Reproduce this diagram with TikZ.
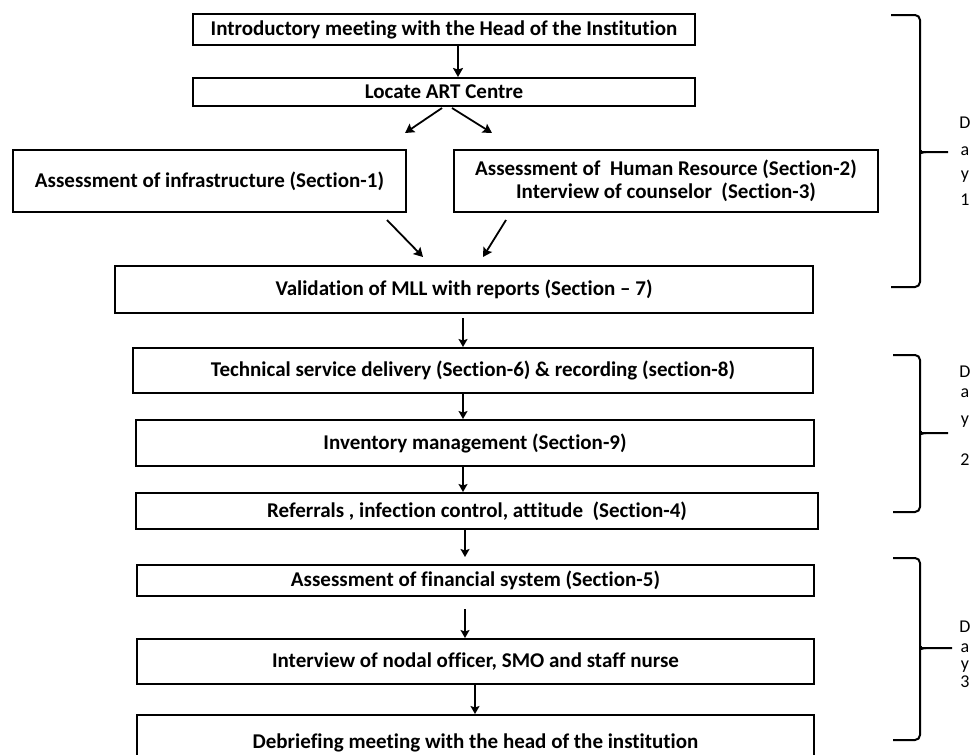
\documentclass[tikz,border=0pt]{standalone}
\usepackage{fontspec}
\setmainfont{Carlito}[Ligatures=NoCommon]
\usetikzlibrary{arrows.meta}
\begin{document}
\begin{tikzpicture}[x=1pt,y=-1pt,
  box/.style={draw,line width=2pt,rectangle,inner sep=0pt,align=center,font=\fontsize{21}{24}\selectfont\bfseries},
  arr/.style={line width=1.8pt,-{Stealth[length=9pt,width=10pt,inset=1.5pt]}},
  arrs/.style={line width=1.5pt,-{Stealth[length=8pt,width=9pt,inset=1.5pt]}},
  brace/.style={line width=2pt,rounded corners=5pt},
  dayl/.style={inner sep=0pt,font=\fontsize{18}{18}\selectfont}]
\clip (0,0) rectangle (972,755);
\useasboundingbox (0,0) rectangle (972,755);
\fill[white] (0,0) rectangle (972,755);
% boxes
\node[box,minimum width=502pt,minimum height=31pt] (b1) at (444,29.5) {Introductory meeting with the Head of the Institution};
\node[box,minimum width=502pt,minimum height=28pt] (b2) at (444,92) {Locate ART Centre};
\node[box,minimum width=393pt,minimum height=62pt] (b3) at (209.5,181) {Assessment of infrastructure (Section-1)};
\node[box,minimum width=424pt,minimum height=62pt] (b4) at (666,181) {Assessment of~~Human Resource (Section-2)\\[-1pt]Interview of counselor~~(Section-3)};
\node[box,minimum width=698pt,minimum height=47pt] (b5) at (464,289.5) {Validation of MLL with reports (Section -- 7)};
\node[box,minimum width=680pt,minimum height=45pt] (b6) at (473,370.5) {Technical service delivery (Section-6) \& recording (section-8)};
\node[box,minimum width=678pt,minimum height=46pt] (b7) at (475,443) {Inventory management (Section-9)};
\node[box,minimum width=682pt,minimum height=36pt] (b8) at (477,511) {Referrals , infection control, attitude~~(Section-4)};
\node[box,minimum width=677pt,minimum height=31pt] (b9) at (475.5,580.5) {Assessment of financial system (Section-5)};
\node[box,minimum width=677pt,minimum height=45pt] (b10) at (475.5,661.5) {Interview of nodal officer, SMO and staff nurse};
\node[box,minimum width=677pt,minimum height=56pt] (b11) at (475.5,743) {Debriefing meeting with the head of the institution};
% free arrow ends
\coordinate (t1) at (405,133);
\coordinate (t2) at (492,133);
\coordinate (s1) at (387,220);
\coordinate (s2) at (506,220);
\coordinate (e1) at (423,257);
\coordinate (e2) at (483,257);
% arrows
\draw[arr] ([xshift=14pt]b1.south) -- ([xshift=14pt]b2.north);
\draw[arr] ([xshift=-2pt,yshift=-1pt]b2.south) -- (t1);
\draw[arr] ([xshift=8pt,yshift=-1pt]b2.south) -- (t2);
\draw[arr] (s1) -- (e1);
\draw[arr] (s2) -- (e2);
\draw[arrs] ([xshift=-1pt,yshift=-4pt]b5.south) -- ([xshift=-1pt]b5.south |- b6.north);
\draw[arrs] ([xshift=-10pt]b6.south) -- ([xshift=-10pt]b6.south |- b7.north);
\draw[arrs] ([xshift=-12pt]b7.south) -- ([xshift=-12pt]b7.south |- b8.north);
\draw[arrs] ([xshift=-12pt]b8.south) -- ([xshift=-12pt,yshift=7pt]b8.south |- b9.north);
\draw[arrs] ([xshift=-10.5pt,yshift=-12pt]b9.south) -- ([xshift=-10.5pt]b9.south |- b10.north);
\draw[arrs] ([xshift=-0.5pt]b10.south) -- ([xshift=-0.5pt]b10.south |- b11.north);
% braces
\coordinate (d1) at (948,152);
\coordinate (d2) at (948,433);
\coordinate (d3) at (952,648);
\draw[brace] (891,15) -- (920,15) -- (920,146) .. controls (920,150) and (922,152) .. (926,152) -- (d1);
\draw[brace] (926,152) .. controls (922,152) and (920,154) .. (920,158) -- (920,287) -- (891,287);
\draw[brace] (893,355) -- (920,355) -- (920,427) .. controls (920,431) and (922,433) .. (926,433) -- (d2);
\draw[brace] (926,433) .. controls (922,433) and (920,435) .. (920,439) -- (920,512) -- (893,512);
\draw[brace] (893,558) -- (920,558) -- (920,642) .. controls (920,646) and (922,648) .. (926,648) -- (d3);
\draw[brace] (926,648) .. controls (922,648) and (920,650) .. (920,654) -- (920,740) -- (893,740);
% day labels
\node[dayl] (l1d) at (965,123) {D};
\node[dayl] (l1a) at (965,151) {a};
\node[dayl] (l1y) at (965,177) {y};
\node[dayl] (l1n) at (965,200) {1};
\node[dayl] (l2d) at (965,372) {D};
\node[dayl] (l2a) at (965,393) {a};
\node[dayl] (l2y) at (965,422) {y};
\node[dayl] (l2n) at (965,460) {2};
\node[dayl] (l3d) at (965,627) {D};
\node[dayl] (l3a) at (965,648) {a};
\node[dayl] (l3y) at (965,667) {y};
\node[dayl] (l3n) at (965,682) {3};
\end{tikzpicture}
\end{document}
